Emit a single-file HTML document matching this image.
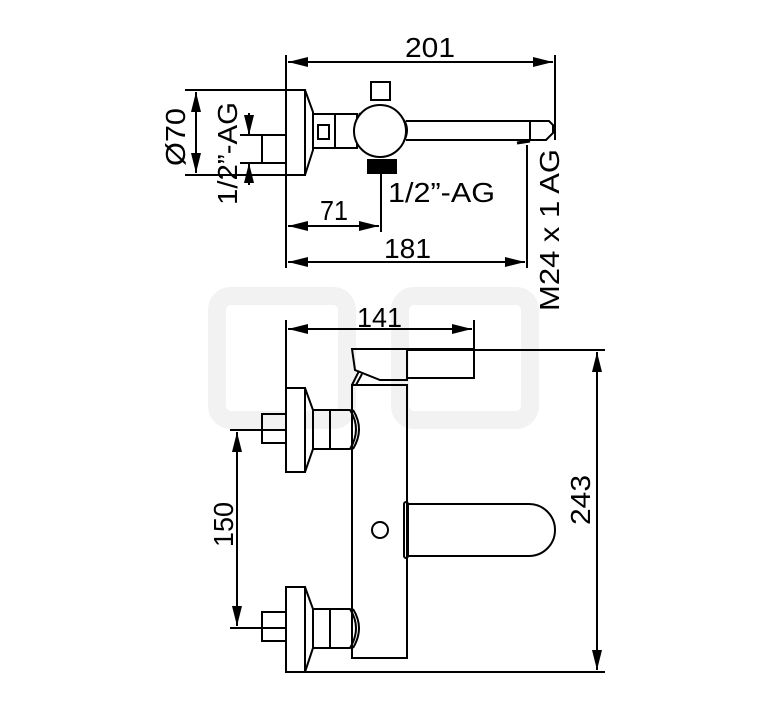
<!DOCTYPE html>
<html><head><meta charset="utf-8"><style>
html,body{margin:0;padding:0;background:#fff;}
svg{display:block;}
text{font-family:"Liberation Sans",Arial,sans-serif;fill:#000;}
</style></head><body>
<svg width="767" height="709" viewBox="0 0 767 709" xmlns="http://www.w3.org/2000/svg">
<defs>
<marker id="a" viewBox="0 0 20 10" refX="20" refY="5" markerWidth="20" markerHeight="10" markerUnits="userSpaceOnUse" orient="auto-start-reverse">
<path d="M0,0 L20,5 L0,10 Z" fill="#000"/></marker>
</defs>
<!-- watermark -->
<g fill="none" stroke="#f2f2f2" stroke-width="18">
<rect x="217" y="296" width="130" height="124" rx="14"/>
<rect x="400" y="296" width="130" height="124" rx="14"/>
</g>
<g stroke="#000" stroke-width="2" fill="none">
<!-- TOP VIEW -->
<line x1="286" y1="55" x2="286" y2="268"/>
<line x1="555" y1="55" x2="555" y2="140"/>
<line x1="288" y1="62" x2="553" y2="62" marker-start="url(#a)" marker-end="url(#a)"/>
<rect x="286" y="90" width="19" height="85" fill="#fff"/>
<path d="M305,90 L313,112 L313,150 L305,175"/>
<rect x="262" y="135" width="24" height="28"/>
<line x1="185" y1="90" x2="286" y2="90"/>
<line x1="185" y1="175" x2="286" y2="175"/>
<line x1="196" y1="92" x2="196" y2="173" marker-start="url(#a)" marker-end="url(#a)"/>
<line x1="240" y1="135" x2="262" y2="135"/>
<line x1="240" y1="163" x2="262" y2="163"/>
<line x1="249" y1="113" x2="249" y2="135" marker-end="url(#a)"/>
<line x1="249" y1="185" x2="249" y2="163" marker-end="url(#a)"/>
<rect x="313" y="114" width="22" height="34"/>
<rect x="318" y="125" width="11" height="14"/>
<rect x="335" y="114" width="22" height="34"/>
<path d="M360,113 Q352,130 360,148"/>
<rect x="371" y="82" width="19" height="18"/>
<circle cx="380" cy="131" r="26" fill="#fff"/>
<path d="M404,120 Q410,130 404,141"/>
<rect x="368" y="160" width="28" height="13" fill="#000"/>
<path d="M406,121 L549,121 L553,125 L553,133 L546,140 L406,140"/>
<line x1="530" y1="121" x2="530" y2="140"/>
<path d="M517,143 L530,141" stroke-width="3"/>
<line x1="381" y1="173" x2="381" y2="232"/>
<line x1="288" y1="226" x2="379" y2="226" marker-start="url(#a)" marker-end="url(#a)"/>
<line x1="527" y1="145" x2="527" y2="268"/>
<line x1="288" y1="262" x2="525" y2="262" marker-start="url(#a)" marker-end="url(#a)"/>
<!-- FRONT VIEW -->
<line x1="286" y1="320" x2="286" y2="390"/>
<line x1="474" y1="320" x2="474" y2="378"/>
<line x1="288" y1="329" x2="472" y2="329" marker-start="url(#a)" marker-end="url(#a)"/>
<path d="M352,349 L407,349 L407,380 L380,380 L355,370 Z"/>
<rect x="407" y="349" width="67" height="29"/>
<path d="M352,385 L359,371 M356,385 L362,374"/>
<line x1="407" y1="350" x2="605" y2="350"/>
<line x1="290" y1="672" x2="605" y2="672"/>
<line x1="597" y1="352" x2="597" y2="670" marker-start="url(#a)" marker-end="url(#a)"/>
<path d="M352,385 L407,385 L407,658 L352,658 Z"/>
<rect x="286" y="388" width="19" height="84" fill="#fff"/>
<path d="M305,388 L313,410 L313,449 L305,472"/>
<rect x="313" y="410" width="17" height="39"/>
<path d="M330,410 L350,410 Q362,429 350,449 L330,449 Z"/>
<path d="M353,410 Q365,429 353,449"/>
<rect x="262" y="414" width="24" height="29"/>
<rect x="286" y="587" width="19" height="85" fill="#fff"/>
<path d="M305,587 L313,609 L313,648 L305,672"/>
<rect x="313" y="609" width="17" height="39"/>
<path d="M330,609 L350,609 Q362,628 350,648 L330,648 Z"/>
<path d="M353,609 Q365,628 353,648"/>
<rect x="262" y="612" width="24" height="29"/>
<line x1="230" y1="430" x2="286" y2="430"/>
<line x1="230" y1="628" x2="286" y2="628"/>
<line x1="237" y1="432" x2="237" y2="626" marker-start="url(#a)" marker-end="url(#a)"/>
<circle cx="380" cy="530" r="8"/>
<path d="M406,504 L529,504 A26,26 0 0 1 529,556 L406,556"/>
<rect x="404" y="502" width="4" height="56" rx="2"/>
</g>
<g font-size="28">
<text x="405" y="57" textLength="50" lengthAdjust="spacingAndGlyphs">201</text>
<text x="320" y="220" textLength="28" lengthAdjust="spacingAndGlyphs">71</text>
<text x="384" y="258" textLength="47" lengthAdjust="spacingAndGlyphs">181</text>
<text x="388" y="202" textLength="107" lengthAdjust="spacingAndGlyphs">1/2”-AG</text>
<text x="357" y="327" textLength="45" lengthAdjust="spacingAndGlyphs">141</text>
<text transform="translate(185,166) rotate(-90)" textLength="58" lengthAdjust="spacingAndGlyphs">Ø70</text>
<text transform="translate(237,205) rotate(-90)" textLength="103" lengthAdjust="spacingAndGlyphs">1/2”-AG</text>
<text transform="translate(559,311) rotate(-90)" textLength="162" lengthAdjust="spacingAndGlyphs">M24 x 1 AG</text>
<text transform="translate(233,547) rotate(-90)" textLength="45" lengthAdjust="spacingAndGlyphs">150</text>
<text transform="translate(590,525) rotate(-90)" textLength="50" lengthAdjust="spacingAndGlyphs">243</text>
</g>
</svg>
</body></html>
